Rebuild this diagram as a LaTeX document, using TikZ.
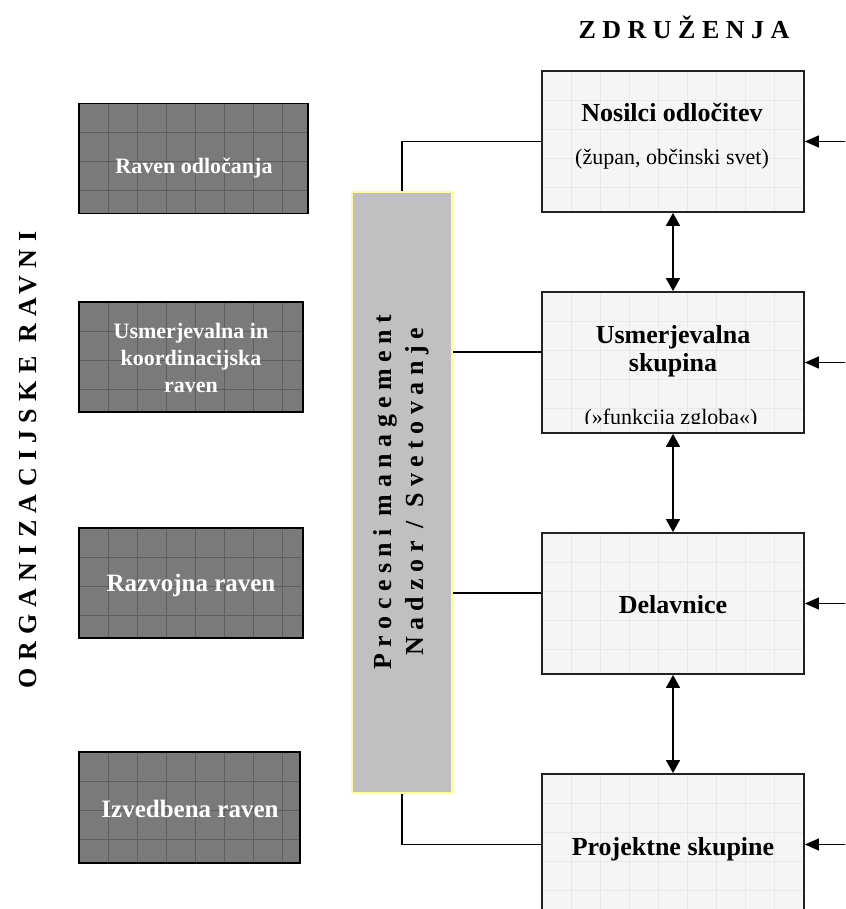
\documentclass[tikz,border=0pt]{standalone}
\usepackage{fontspec}
\setmainfont{Liberation Serif}
\newfontfamily\spacedfont[LetterSpace=25]{Liberation Serif}
\newfontfamily\widefont[LetterSpace=28]{Liberation Serif}
\usetikzlibrary{arrows.meta}

\definecolor{lvlfill}{HTML}{7A7A7A}
\definecolor{lvlgrid}{HTML}{5E5E5E}
\definecolor{boxfill}{HTML}{F5F5F5}
\definecolor{boxgrid}{HTML}{E9E9E9}
\definecolor{pmfill}{HTML}{C0C0C0}
\definecolor{pmedge}{HTML}{FFFF99}
\definecolor{boxedge}{HTML}{222222}

\tikzset{
  cellgrid/.style={path picture={
    \foreach \k in {1,...,10}{
      \draw[#1] ([xshift=\k*29pt]path picture bounding box.north west) -- ([xshift=\k*29pt]path picture bounding box.south west);
      \draw[#1] ([yshift=-\k*29pt]path picture bounding box.north west) -- ([yshift=-\k*29pt]path picture bounding box.north east);
    }}},
  level/.style={draw=black, line width=1.8pt, fill=lvlfill, inner sep=0pt,
    minimum height=110pt, cellgrid={lvlgrid, line width=1pt}},
  leveltext/.style={text=white, font=\bfseries\fontsize{22}{27}\selectfont, align=center, inner sep=0pt},
  assoc/.style={draw=boxedge, line width=1.8pt, fill=boxfill, inner sep=0pt,
    minimum width=262pt, minimum height=141pt, cellgrid={boxgrid, line width=0.8pt}},
  assoctitle/.style={font=\bfseries\fontsize{26}{28}\selectfont, inner sep=0pt, anchor=base},
  assocnote/.style={font=\fontsize{22}{26}\selectfont, inner sep=0pt, anchor=base},
  procbox/.style={draw=pmedge, line width=1.8pt, fill=pmfill, inner sep=0pt,
    minimum width=100pt, minimum height=601pt},
  spaced/.style={font=\spacedfont\bfseries\fontsize{26}{32}\selectfont, inner sep=0pt, align=center},
  conn/.style={draw=black, line width=1.4pt},
  twoway/.style={conn, {Triangle[length=13pt,width=14pt]}-{Triangle[length=13pt,width=14pt]}},
  inflow/.style={conn, -{Triangle[length=14pt,width=12pt]}},
}

\begin{document}
\begin{tikzpicture}[x=1pt, y=-1pt]
\useasboundingbox (0,0) rectangle (845,909);
\clip (0,0) rectangle (845,909);

% headings
\node[spaced] (zdr) at (684,27) {ZDRUŽENJA};
\node[spaced, font=\widefont\bfseries\fontsize{26}{32}\selectfont, rotate=90] (orgr) at (28,460) {ORGANIZACIJSKE RAVNI};

% organisational levels
\node[level, minimum width=229pt] (l1) at (193.5,158.5) {};
\node[level, minimum width=224pt] (l2) at (191,357) {};
\node[level, minimum width=224pt] (l3) at (191,583) {};
\node[level, minimum width=221pt, minimum height=111pt] (l4) at (189.5,807.5) {};

\node[leveltext, anchor=base] (l1t) at (194,174) {Raven odločanja};
\node[leveltext] (l2t) at (191,358) {Usmerjevalna in\\koordinacijska\\raven};
\node[leveltext, anchor=base, font=\bfseries\fontsize{25}{30}\selectfont] (l3t) at (191,591) {Razvojna raven};
\node[leveltext, anchor=base, font=\bfseries\fontsize{25}{30}\selectfont] (l4t) at (190,817) {Izvedbena raven};

% process management column
\node[procbox] (pm) at (402,492.5) {};
\node[spaced, rotate=90] (pmt) at (401,492) {Procesni management\\Nadzor / Svetovanje};

% association bodies
\node[assoc] (nos) at (673,141.5) {};
\node[assoc] (usm) at (673,362.5) {};
\node[assoc] (del) at (673,603.5) {};
\node[assoc] (proj) at (673,844.5) {};

\node[assoctitle] (nost) at (672,122) {Nosilci odločitev};
\node[assocnote] (nosn) at (672,165) {(župan, občinski svet)};
\node[assoctitle] (usmt1) at (673,343) {Usmerjevalna};
\node[assoctitle] (usmt2) at (673,371) {skupina};
\begin{scope}
  \clip (usm.west |- 0,300) rectangle (usm.east |- 0,423);
  \node[assocnote] (usmn) at (671,424) {(»funkcija zgloba«)};
\end{scope}
\node[assoctitle] (delt) at (673,613) {Delavnice};
\node[assoctitle] (projt) at (673,855) {Projektne skupine};

% links from the process column
\coordinate (usmIn) at ([yshift=10.5pt]usm.west);
\coordinate (delIn) at ([yshift=10.5pt]del.west);
\draw[conn] (pm.north) |- (nos.west);
\draw[conn] (pm.east |- usmIn) -- (usmIn);
\draw[conn] (pm.east |- delIn) -- (delIn);
\draw[conn] (pm.south) |- (proj.west);

% links between the bodies
\draw[twoway] (nos.south) -- (usm.north);
\draw[twoway] (usm.south) -- (del.north);
\draw[twoway] (del.south) -- (proj.north);

% inputs from the right
\coordinate (rim) at (846,0);
\draw[inflow] (rim |- nos.east) -- (nos.east);
\draw[inflow] (rim |- usm.east) -- (usm.east);
\draw[inflow] (rim |- del.east) -- (del.east);
\draw[inflow] (rim |- proj.east) -- (proj.east);
\end{tikzpicture}
\end{document}
